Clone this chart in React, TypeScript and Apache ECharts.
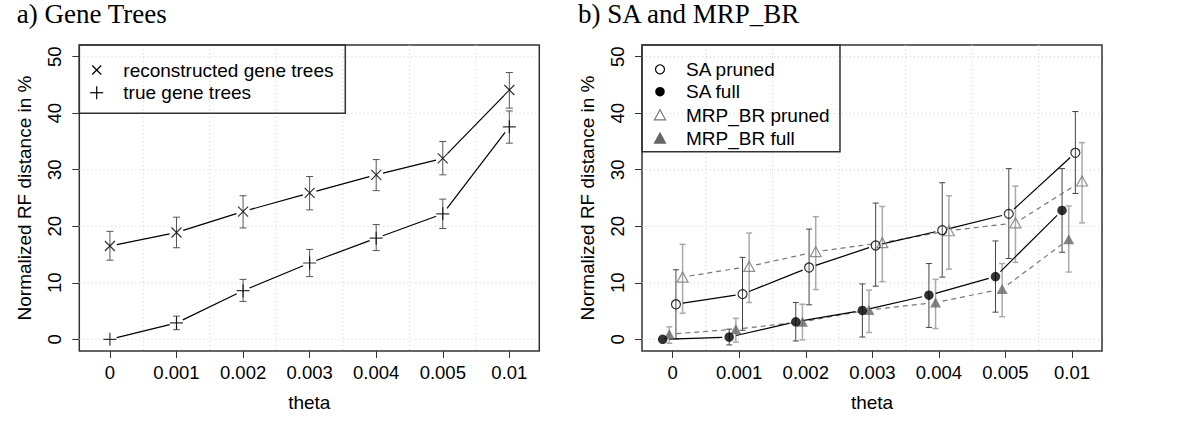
import React, { useEffect, useRef } from "react";
import * as echarts from "echarts";

// ---------- data ----------
const thetaLabels = ["0", "0.001", "0.002", "0.003", "0.004", "0.005", "0.01"];
const yTicks = [0, 10, 20, 30, 40, 50];

// panel a) Gene Trees
const reconMean = [16.5, 18.9, 22.6, 25.9, 29.1, 32.0, 44.1];
const reconLow = [14.0, 16.2, 19.7, 22.9, 26.3, 29.1, 40.9];
const reconHigh = [19.1, 21.6, 25.4, 28.8, 31.8, 35.0, 47.2];
const trueMean = [0, 2.9, 8.6, 13.5, 17.9, 22.2, 37.6];
const trueLow = [0, 1.7, 6.7, 11.1, 15.7, 19.6, 34.7];
const trueHigh = [0, 4.1, 10.6, 15.9, 20.3, 24.8, 40.4];

// panel b) SA and MRP_BR
const saPruned = [6.2, 8.0, 12.7, 16.6, 19.3, 22.2, 33.0];
const saPrunedLow = [0.1, 1.6, 6.1, 9.4, 11.0, 14.3, 25.8];
const saPrunedHigh = [12.3, 14.5, 19.5, 24.1, 27.7, 30.2, 40.3];
const saFull = [0, 0.4, 3.1, 5.1, 7.8, 11.1, 22.8];
const saFullLow = [0, -1.0, -0.3, 0.4, 2.1, 4.8, 15.4];
const saFullHigh = [0, 1.8, 6.5, 9.8, 13.4, 17.4, 30.2];
const mrpPruned = [11.0, 12.9, 15.5, 17.1, 19.2, 20.6, 28.0];
const mrpPrunedLow = [4.6, 6.5, 8.8, 10.2, 12.4, 13.6, 20.6];
const mrpPrunedHigh = [16.8, 18.8, 21.7, 23.5, 25.4, 27.1, 34.8];
const mrpFull = [0.9, 1.8, 3.1, 5.2, 6.5, 8.9, 17.7];
const mrpFullLow = [-0.7, -0.5, -0.1, 1.2, 1.9, 4.0, 11.9];
const mrpFullHigh = [2.2, 3.7, 6.2, 8.7, 10.6, 13.4, 23.6];

// jitter of the four series in panel b (in category units)
const offSaFull = -0.15;
const offMrpFull = -0.05;
const offSaPruned = 0.05;
const offMrpPruned = 0.15;

// ---------- helpers ----------
const FONT = '"Liberation Sans", Arial, Helvetica, sans-serif';
const SERIF = '"Liberation Serif", "Times New Roman", serif';
const X_MIN = -0.46;
const X_MAX = 6.45;
const Y_MIN = -2.07;
const Y_MAX = 52.07;
const GAP = 7;

const xIdx = thetaLabels.map((_, i) => i);
const mids = thetaLabels.slice(0, -1).map((_, i) => i + 0.5);

const pts = (vals: number[], off: number) => vals.map((v, i) => [i + off, v]);
const bars = (lo: number[], hi: number[], off: number) =>
  lo.map((l, i) => [i + off, l, hi[i]]);

const hGrid = (gi: number) => ({
  type: "custom",
  xAxisIndex: gi,
  yAxisIndex: gi,
  silent: true,
  z: 1,
  data: yTicks.map((v) => [0, v]),
  renderItem: (params: any, api: any) => {
    const cs = params.coordSys;
    const y = api.coord([0, api.value(1)])[1];
    return {
      type: "line",
      shape: { x1: cs.x, y1: y, x2: cs.x + cs.width, y2: y },
      style: { stroke: "#cfcfcf", lineWidth: 1, lineDash: [1, 3] },
    };
  },
});

const vGrid = (gi: number) => ({
  type: "custom",
  xAxisIndex: gi,
  yAxisIndex: gi,
  silent: true,
  z: 1,
  data: mids.map((m) => [m, 0]),
  renderItem: (params: any, api: any) => {
    const cs = params.coordSys;
    const x = api.coord([api.value(0), 0])[0];
    return {
      type: "line",
      shape: { x1: x, y1: cs.y, x2: x, y2: cs.y + cs.height },
      style: { stroke: "#cfcfcf", lineWidth: 1, lineDash: [1, 3] },
    };
  },
});

const errBars = (gi: number, data: number[][], color: string, width: number, cap: number) => ({
  type: "custom",
  xAxisIndex: gi,
  yAxisIndex: gi,
  silent: true,
  z: 2,
  data,
  renderItem: (params: any, api: any) => {
    const x = api.value(0);
    const lo = api.value(1);
    const hi = api.value(2);
    if (hi - lo < 0.05) return null;
    const t = api.coord([x, hi]);
    const b = api.coord([x, lo]);
    const st = { stroke: color, lineWidth: width };
    return {
      type: "group",
      children: [
        { type: "line", shape: { x1: t[0], y1: t[1], x2: b[0], y2: b[1] }, style: st },
        { type: "line", shape: { x1: t[0] - cap, y1: t[1], x2: t[0] + cap, y2: t[1] }, style: st },
        { type: "line", shape: { x1: b[0] - cap, y1: b[1], x2: b[0] + cap, y2: b[1] }, style: st },
      ],
    };
  },
});

const segs = (gi: number, data: number[][], color: string, dash: number[] | null, width: number) => ({
  type: "custom",
  xAxisIndex: gi,
  yAxisIndex: gi,
  silent: true,
  z: 3,
  data,
  renderItem: (params: any, api: any) => {
    const i = params.dataIndex;
    if (i >= data.length - 1) return null;
    const a = api.coord([api.value(0), api.value(1)]);
    const b = api.coord(data[i + 1]);
    const dx = b[0] - a[0];
    const dy = b[1] - a[1];
    const L = Math.hypot(dx, dy);
    if (L <= 2 * GAP) return null;
    const ux = dx / L;
    const uy = dy / L;
    return {
      type: "line",
      shape: { x1: a[0] + ux * GAP, y1: a[1] + uy * GAP, x2: b[0] - ux * GAP, y2: b[1] - uy * GAP },
      style: { stroke: color, lineWidth: width, lineDash: dash || undefined },
    };
  },
});

const marks = (gi: number, name: string, data: number[][], symbol: string, size: any, itemStyle: any) => ({
  type: "scatter",
  name,
  xAxisIndex: gi,
  yAxisIndex: gi,
  silent: true,
  z: 4,
  data,
  symbol,
  symbolSize: size,
  itemStyle,
});

const CROSS = "path://M0,0L10,10M10,0L0,10";
const PLUS = "path://M5,0L5,10M0,5L10,5";
const TRANSP = "rgba(0,0,0,0)";

const xAxis = (gi: number) => ({
  type: "value",
  gridIndex: gi,
  min: X_MIN,
  max: X_MAX,
  axisLine: { show: false, onZero: false },
  axisTick: { show: true, customValues: xIdx, length: 7, lineStyle: { color: "#333", width: 1 } },
  axisLabel: {
    show: true,
    customValues: xIdx,
    formatter: (v: number) => thetaLabels[Math.round(v)] ?? "",
    margin: 12,
    fontSize: 18.5,
    color: "#000",
    fontFamily: FONT,
  },
  splitLine: { show: false },
  name: "theta",
  nameLocation: "middle",
  nameGap: 42,
  nameTextStyle: { fontSize: 19, color: "#000", fontFamily: FONT },
});

const yAxis = (gi: number) => ({
  type: "value",
  gridIndex: gi,
  min: Y_MIN,
  max: Y_MAX,
  axisLine: { show: false, onZero: false },
  axisTick: { show: true, customValues: yTicks, length: 7, lineStyle: { color: "#333", width: 1 } },
  axisLabel: {
    show: true,
    customValues: yTicks,
    rotate: 90,
    margin: 15,
    fontSize: 18.5,
    color: "#000",
    fontFamily: FONT,
  },
  splitLine: { show: false },
  name: "Normalized RF distance in %",
  nameLocation: "middle",
  nameRotate: 90,
  nameGap: 45,
  nameTextStyle: { fontSize: 19, color: "#000", fontFamily: FONT },
});

const txt = (x: number, y: number, text: string, font: string) => ({
  type: "text",
  x,
  y,
  z: 60,
  silent: true,
  style: { text, font, fill: "#000", align: "left", verticalAlign: "middle" },
});

const ln = (x1: number, y1: number, x2: number, y2: number, stroke: string) => ({
  type: "line",
  z: 60,
  silent: true,
  shape: { x1, y1, x2, y2 },
  style: { stroke, lineWidth: 1.2 },
});

const tri = (cx: number, cy: number, fill: string, stroke: string) => ({
  type: "polygon",
  z: 60,
  silent: true,
  shape: { points: [[cx - 5.5, cy + 4.8], [cx + 5.5, cy + 4.8], [cx, cy - 5.2]] },
  style: { fill, stroke, lineWidth: 1.2 },
});

const LEG_FONT = `19px ${FONT}`;
const TITLE_FONT = `27px ${SERIF}`;

const option: any = {
  animation: false,
  backgroundColor: "#fff",
  grid: [
    { left: 79.3, top: 45, width: 460, height: 306, show: true, borderColor: "#333", borderWidth: 1.5, backgroundColor: TRANSP },
    { left: 642, top: 45, width: 460, height: 306, show: true, borderColor: "#333", borderWidth: 1.5, backgroundColor: TRANSP },
  ],
  xAxis: [xAxis(0), xAxis(1)],
  yAxis: [yAxis(0), yAxis(1)],
  series: [
    // panel a
    hGrid(0),
    vGrid(0),
    errBars(0, bars(reconLow, reconHigh, 0), "#555", 1, 3.5),
    errBars(0, bars(trueLow, trueHigh, 0), "#555", 1, 3.5),
    segs(0, pts(reconMean, 0), "#000", null, 1.2),
    segs(0, pts(trueMean, 0), "#000", null, 1.2),
    marks(0, "reconstructed gene trees", pts(reconMean, 0), CROSS, 10, { color: TRANSP, borderColor: "#000", borderWidth: 1.2 }),
    marks(0, "true gene trees", pts(trueMean, 0), PLUS, 13, { color: TRANSP, borderColor: "#000", borderWidth: 1.2 }),
    // panel b
    hGrid(1),
    vGrid(1),
    errBars(1, bars(mrpFullLow, mrpFullHigh, offMrpFull), "#aaa", 1.5, 3),
    errBars(1, bars(mrpPrunedLow, mrpPrunedHigh, offMrpPruned), "#aaa", 1.5, 3),
    errBars(1, bars(saFullLow, saFullHigh, offSaFull), "#444", 1, 3),
    errBars(1, bars(saPrunedLow, saPrunedHigh, offSaPruned), "#444", 1, 3),
    segs(1, pts(mrpPruned, offMrpPruned), "#777", [5, 4], 1.2),
    segs(1, pts(mrpFull, offMrpFull), "#777", [5, 4], 1.2),
    segs(1, pts(saPruned, offSaPruned), "#000", null, 1.2),
    segs(1, pts(saFull, offSaFull), "#000", null, 1.2),
    marks(1, "MRP_BR pruned", pts(mrpPruned, offMrpPruned), "triangle", [11, 10], { color: TRANSP, borderColor: "#777", borderWidth: 1.2 }),
    marks(1, "MRP_BR full", pts(mrpFull, offMrpFull), "triangle", [11, 10], { color: "#666" }),
    marks(1, "SA pruned", pts(saPruned, offSaPruned), "circle", 9, { color: TRANSP, borderColor: "#000", borderWidth: 1.2 }),
    marks(1, "SA full", pts(saFull, offSaFull), "circle", 9.5, { color: "#000" }),
  ],
  graphic: [
    txt(16.7, 13.5, "a) Gene Trees", TITLE_FONT),
    txt(578, 13.5, "b) SA and MRP_BR", TITLE_FONT),
    // legend a
    { type: "rect", z: 60, silent: true, shape: { x: 79.3, y: 45, width: 266, height: 68.3 }, style: { fill: "none", stroke: "#333", lineWidth: 1.5 } },
    ln(92.2, 65.5, 101.2, 74.5, "#000"),
    ln(92.2, 74.5, 101.2, 65.5, "#000"),
    ln(90.2, 92.7, 103.2, 92.7, "#000"),
    ln(96.7, 86.2, 96.7, 99.2, "#000"),
    txt(123.3, 70, "reconstructed gene trees", LEG_FONT),
    txt(123.3, 92.7, "true gene trees", LEG_FONT),
    // legend b
    { type: "rect", z: 60, silent: true, shape: { x: 642, y: 45, width: 198, height: 106.7 }, style: { fill: "none", stroke: "#333", lineWidth: 1.5 } },
    { type: "circle", z: 60, silent: true, shape: { cx: 660, cy: 69.3, r: 4.5 }, style: { fill: "none", stroke: "#000", lineWidth: 1.2 } },
    { type: "circle", z: 60, silent: true, shape: { cx: 660, cy: 91.7, r: 4.75 }, style: { fill: "#000" } },
    tri(660, 115, "none", "#777"),
    tri(660, 138.3, "#666", "#666"),
    txt(686, 69.3, "SA pruned", LEG_FONT),
    txt(686, 91.7, "SA full", LEG_FONT),
    txt(686, 115, "MRP_BR pruned", LEG_FONT),
    txt(686, 138.3, "MRP_BR full", LEG_FONT),
  ],
};

export default function App() {
  const ref = useRef<HTMLDivElement>(null);
  useEffect(() => {
    document.body.style.margin = "0";
    if (!ref.current) return;
    const chart = echarts.init(ref.current, null, { renderer: "svg" });
    chart.setOption(option);
    return () => chart.dispose();
  }, []);
  return <div ref={ref} style={{ width: 1200, height: 440, background: "#fff" }} />;
}
